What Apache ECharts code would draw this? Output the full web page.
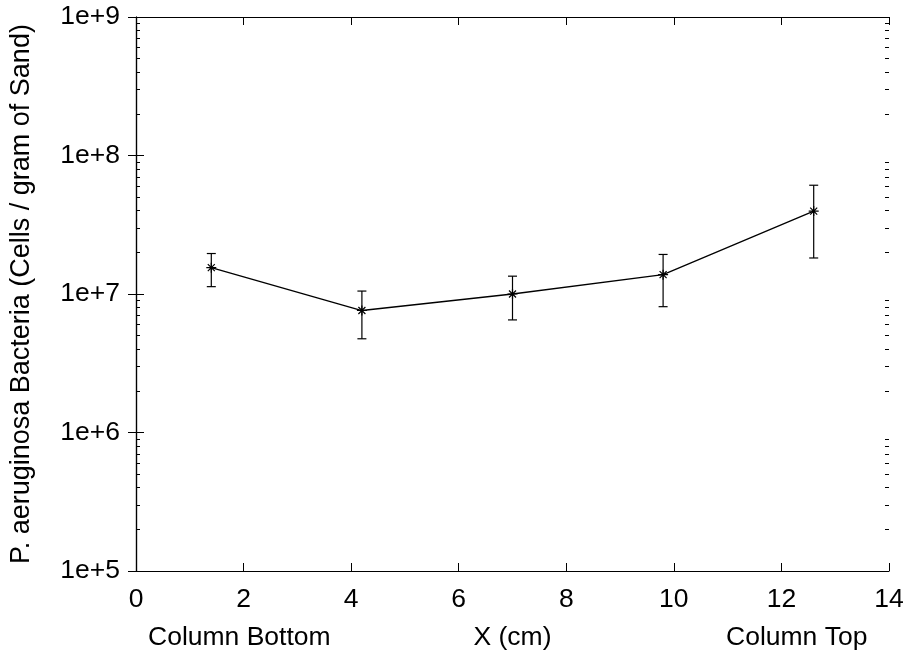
<!DOCTYPE html>
<html>
<head>
<meta charset="utf-8">
<script src="https://cdn.jsdelivr.net/npm/echarts@6/dist/echarts.min.js"></script>
<style>
  html, body { margin: 0; padding: 0; background: #fff; }
  #chart { width: 912px; height: 656px; }
</style>
</head>
<body>
<div id="chart"></div>
<script>
// data
var xPos = [1.4, 4.2, 7.0, 9.8, 12.6];
var cells = [1.55e7, 7.6e6, 1.0e7, 1.38e7, 3.97e7];
var cellsHigh = [1.96e7, 1.05e7, 1.345e7, 1.93e7, 6.1e7];
var cellsLow = [1.13e7, 4.75e6, 6.5e6, 8.1e6, 1.82e7];

var decades = [1e5, 1e6, 1e7, 1e8];
var minorSteps = [2, 3, 4, 5, 6, 7, 8, 9];
var minorTicks = [];
decades.forEach(function (d) {
  minorSteps.forEach(function (m) { minorTicks.push(d * m); });
});

var font = "'Liberation Sans', Arial, sans-serif";
var black = "#000";

var lineData = xPos.map(function (x, i) { return [x, cells[i]]; });
var errData = xPos.map(function (x, i) { return [x, cellsLow[i], cellsHigh[i]]; });

var chart = echarts.init(document.getElementById("chart"));

function majorY(pos) {
  return {
    type: "log",
    logBase: 10,
    min: 1e5,
    max: 1e9,
    position: pos,
    axisLine: { show: true, lineStyle: { color: black, width: 1.2 } },
    axisTick: { show: true, inside: true, length: 8, lineStyle: { color: black } },
    axisLabel: { show: false },
    splitLine: { show: false },
    minorTick: { show: false }
  };
}
function minorY(pos) {
  return {
    type: "log",
    logBase: 10,
    min: 1e5,
    max: 1e9,
    position: pos,
    axisLine: { show: false },
    axisTick: { show: true, inside: true, length: 4, customValues: minorTicks, lineStyle: { color: black } },
    axisLabel: { show: false },
    splitLine: { show: false }
  };
}

var yLeft = majorY("left");
yLeft.axisLabel = {
  show: true,
  fontSize: 26.5,
  fontFamily: font,
  color: black,
  margin: 16,
  formatter: function (v) { return "1e+" + Math.round(Math.log10(v)); }
};
yLeft.name = "P. aeruginosa Bacteria (Cells / gram of Sand)";
yLeft.nameLocation = "middle";
yLeft.nameGap = 101;
yLeft.nameTextStyle = { fontSize: 27, fontFamily: font, color: black };

var option = {
  animation: false,
  backgroundColor: "#fff",
  grid: { left: 133, right: 23, top: 17, bottom: 85 },
  xAxis: [
    {
      type: "value",
      min: 0,
      max: 14,
      interval: 2,
      position: "bottom",
      axisLine: { show: true, lineStyle: { color: black, width: 1.2 } },
      axisTick: { show: true, inside: true, length: 8, lineStyle: { color: black } },
      axisLabel: { fontSize: 26.5, fontFamily: font, color: black, margin: 15 },
      splitLine: { show: false },
      name: "X (cm)",
      nameLocation: "middle",
      nameGap: 53,
      nameTextStyle: { fontSize: 26.5, fontFamily: font, color: black }
    },
    {
      type: "value",
      min: 0,
      max: 14,
      interval: 2,
      position: "top",
      axisLine: { show: true, lineStyle: { color: black, width: 1.2 } },
      axisTick: { show: true, inside: true, length: 8, lineStyle: { color: black } },
      axisLabel: { show: false },
      splitLine: { show: false }
    }
  ],
  yAxis: [yLeft, majorY("right"), minorY("left"), minorY("right")],
  graphic: [
    {
      type: "text",
      left: 148,
      top: 624,
      style: { text: "Column Bottom", fontSize: 26.5, fontFamily: font, fill: black }
    },
    {
      type: "text",
      left: 726,
      top: 624,
      style: { text: "Column Top", fontSize: 26.5, fontFamily: font, fill: black }
    }
  ],
  series: [
    {
      type: "custom",
      xAxisIndex: 0,
      yAxisIndex: 0,
      data: errData,
      encode: { x: 0, y: [1, 2] },
      silent: true,
      z: 3,
      renderItem: function (params, api) {
        var x = api.value(0);
        var lo = api.coord([x, api.value(1)]);
        var hi = api.coord([x, api.value(2)]);
        var cap = 4.5;
        var style = { stroke: black, lineWidth: 1.2 };
        return {
          type: "group",
          children: [
            { type: "line", shape: { x1: lo[0], y1: lo[1], x2: hi[0], y2: hi[1] }, style: style },
            { type: "line", shape: { x1: lo[0] - cap, y1: lo[1], x2: lo[0] + cap, y2: lo[1] }, style: style },
            { type: "line", shape: { x1: hi[0] - cap, y1: hi[1], x2: hi[0] + cap, y2: hi[1] }, style: style }
          ]
        };
      }
    },
    {
      type: "line",
      xAxisIndex: 0,
      yAxisIndex: 0,
      data: lineData,
      z: 4,
      symbol: "path://M0,5L10,5M5,0L5,10M1.5,1.5L8.5,8.5M8.5,1.5L1.5,8.5",
      symbolSize: 10,
      itemStyle: { color: black, borderColor: black, borderWidth: 1.2 },
      lineStyle: { color: black, width: 1.3 }
    }
  ]
};

chart.setOption(option);
</script>
</body>
</html>
